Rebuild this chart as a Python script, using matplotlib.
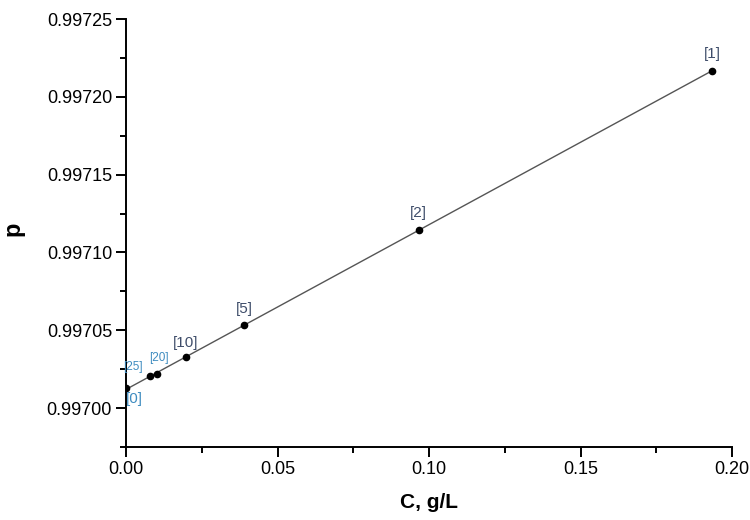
import numpy as np
import matplotlib
matplotlib.use("Agg")
import matplotlib.pyplot as plt
from matplotlib.ticker import MultipleLocator, FormatStrFormatter

plt.rcParams['font.family'] = ['Liberation Sans', 'DejaVu Sans']

labels = ["[0]", "[25]", "[20]", "[10]", "[5]", "[2]", "[1]"]
conc = [0.0, 0.0078, 0.0101, 0.0198, 0.0390, 0.0968, 0.1934]
density = [0.9970128, 0.9970205, 0.9970218, 0.9970327, 0.9970532, 0.9971147, 0.9972167]

x = np.array(conc)
y = np.array(density)

fig = plt.figure(figsize=(7.5, 5.2), dpi=100)
ax = fig.add_axes([0.168, 0.1404, 0.808, 0.823])

k, b = np.polyfit(x, y, 1)
xf = np.array([x.min(), x.max()])
ax.plot(xf, k * xf + b, color="#555555", lw=1.0, zorder=2)
ax.plot(x, y, "o", color="black", ms=4.5, zorder=3)

dark = "#3f4d6a"
light = "#3f8cc0"
offsets = {
    "[0]": (6, -2.5, light, 11),
    "[25]": (-12, 2, light, 8.5),
    "[20]": (2, 7, light, 8.5),
    "[10]": (0, 5, dark, 11),
    "[5]": (0, 7, dark, 11),
    "[2]": (-1, 7, dark, 11),
    "[1]": (0, 7, dark, 11),
}
for lab, xi, yi in zip(labels, x, y):
    dx, dy, c, fs = offsets[lab]
    ax.annotate(lab, (xi, yi), xytext=(dx, dy), textcoords="offset points",
                ha="center", va="bottom" if dy > 0 else "top", color=c, fontsize=fs)

ax.set_xlim(0, 0.20)
ax.set_ylim(0.996975, 0.99725)
ax.xaxis.set_major_locator(MultipleLocator(0.05))
ax.xaxis.set_minor_locator(MultipleLocator(0.025))
ax.yaxis.set_major_locator(MultipleLocator(0.00005))
ax.yaxis.set_minor_locator(MultipleLocator(0.000025))
ax.xaxis.set_major_formatter(FormatStrFormatter("%.2f"))
ax.yaxis.set_major_formatter(FormatStrFormatter("%.5f"))

for s in ["top", "right"]:
    ax.spines[s].set_visible(False)
for s in ["left", "bottom"]:
    ax.spines[s].set_linewidth(1.4)
ax.tick_params(which="major", direction="out", length=7, width=1.4, labelsize=13, pad=3)
ax.tick_params(which="minor", direction="out", length=4, width=1.4)

ax.set_xlabel("C, g/L", fontsize=15, fontweight="bold")
ax.set_ylabel("p", fontsize=17, fontweight="bold")
ax.xaxis.set_label_coords(0.5, -0.108)
ax.yaxis.set_label_coords(-0.168, 0.51)

fig.savefig("out.png", dpi=100)
